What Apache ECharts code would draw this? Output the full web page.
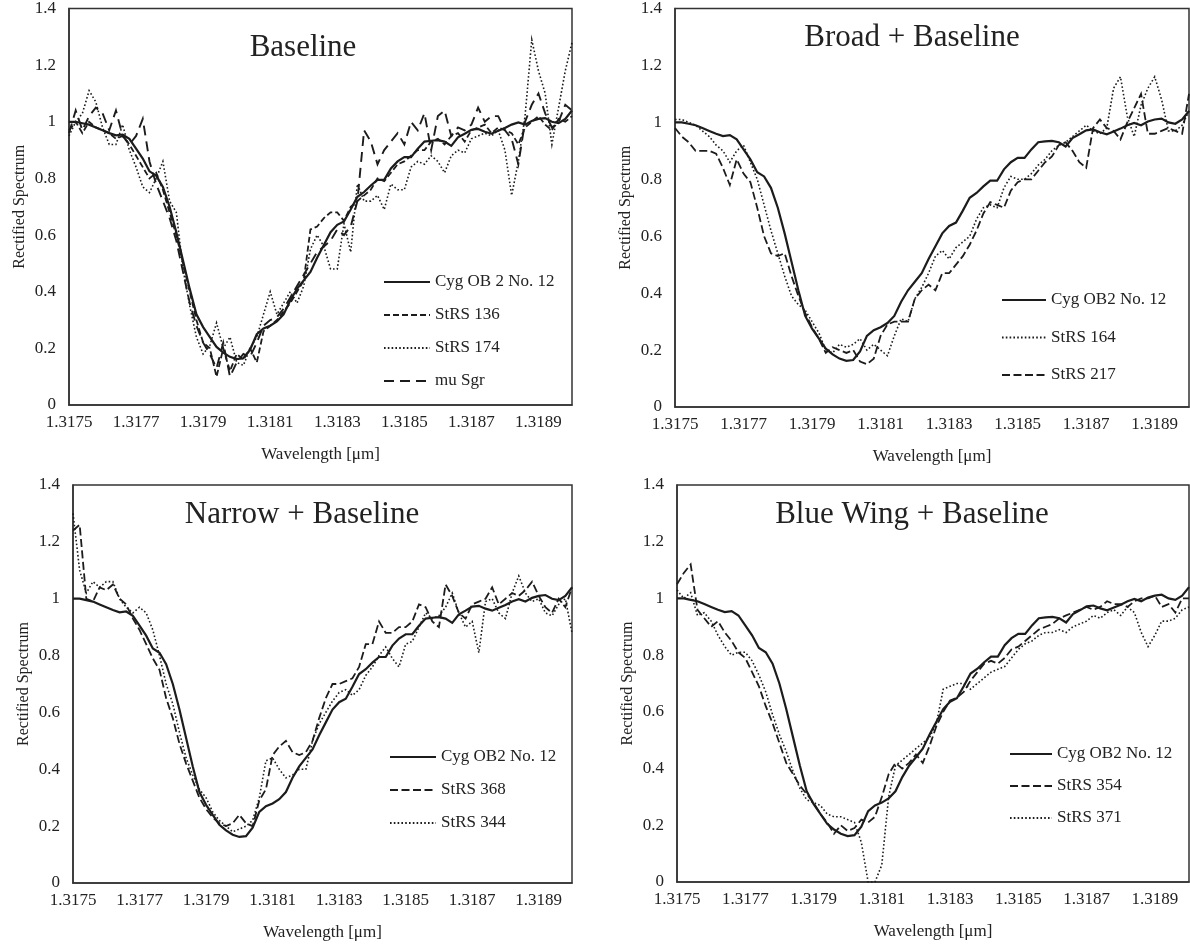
<!DOCTYPE html>
<html><head><meta charset="utf-8">
<script src="https://cdn.jsdelivr.net/npm/echarts@6/dist/echarts.min.js"></script>
<style>html,body{margin:0;padding:0;background:#fff}#c{width:1190px;height:948px}</style>
</head><body><div id="c"></div>
<script>
// ---------- DATA ----------
const wavelength = [1.3175,1.31752,1.31754,1.31756,1.31758,1.3176,1.31762,1.31764,1.31766,1.31768,
  1.3177,1.31772,1.31774,1.31776,1.31778,1.3178,1.31782,1.31784,1.31786,1.31788,
  1.3179,1.31792,1.31794,1.31796,1.31798,1.318,1.31802,1.31804,1.31806,1.31808,
  1.3181,1.31812,1.31814,1.31816,1.31818,1.3182,1.31822,1.31824,1.31826,1.31828,
  1.3183,1.31832,1.31834,1.31836,1.31838,1.3184,1.31842,1.31844,1.31846,1.31848,
  1.3185,1.31852,1.31854,1.31856,1.31858,1.3186,1.31862,1.31864,1.31866,1.31868,
  1.3187,1.31872,1.31874,1.31876,1.31878,1.3188,1.31882,1.31884,1.31886,1.31888,
  1.3189,1.31892,1.31894,1.31896,1.31898,1.319];
const xTickLabels = [1.3175,1.3177,1.3179,1.3181,1.3183,1.3185,1.3187,1.3189];
const yTickLabels = [0,0.2,0.4,0.6,0.8,1,1.2,1.4];
const panelTitles = ['Baseline','Broad + Baseline','Narrow + Baseline','Blue Wing + Baseline'];

// reference star (same in every panel)
const cygOB2No12 = [1.00,1.00,0.995,0.99,0.98,0.97,0.96,0.952,0.955,0.94,
  0.905,0.87,0.825,0.81,0.77,0.70,0.61,0.51,0.41,0.32,
  0.275,0.24,0.205,0.185,0.17,0.162,0.165,0.195,0.25,0.27,
  0.28,0.295,0.32,0.37,0.41,0.44,0.47,0.52,0.565,0.61,
  0.636,0.648,0.69,0.735,0.752,0.775,0.795,0.795,0.835,0.86,
  0.875,0.875,0.905,0.93,0.933,0.935,0.93,0.915,0.945,0.958,
  0.972,0.975,0.965,0.958,0.968,0.978,0.99,0.998,0.99,1.003,
  1.01,1.013,1.0,0.995,1.01,1.04];

// Panel 1: Baseline
const strs136 = [0.97,1.0,0.96,1.0,0.98,0.97,0.96,0.94,0.95,0.92,
  0.88,0.84,0.8,0.82,0.76,0.68,0.6,0.5,0.4,0.3,
  0.22,0.2,0.1,0.2,0.12,0.18,0.16,0.2,0.15,0.26,
  0.28,0.3,0.33,0.36,0.4,0.44,0.62,0.63,0.66,0.68,
  0.68,0.65,0.7,0.72,0.74,0.76,0.8,0.79,0.82,0.85,
  0.86,0.88,0.9,0.9,0.93,0.94,0.92,0.95,0.96,0.93,
  0.97,0.98,0.99,0.96,0.98,0.97,0.96,0.92,0.98,1.0,
  1.02,0.99,0.97,1.01,1.0,1.02];
const strs174 = [0.95,1.0,1.03,1.11,1.07,0.98,0.92,0.92,0.99,0.9,
  0.84,0.77,0.75,0.8,0.86,0.72,0.68,0.48,0.35,0.24,
  0.18,0.21,0.29,0.2,0.24,0.15,0.14,0.2,0.24,0.32,
  0.4,0.32,0.36,0.4,0.36,0.42,0.55,0.6,0.56,0.48,
  0.48,0.64,0.54,0.78,0.72,0.72,0.74,0.69,0.78,0.76,
  0.76,0.84,0.86,0.85,0.88,0.86,0.82,0.88,0.9,0.89,
  0.94,0.95,0.96,0.95,0.97,0.9,0.74,0.86,1.02,1.29,
  1.18,1.1,0.92,1.05,1.18,1.28];
const muSgr = [0.96,1.04,0.97,1.02,1.05,1.03,0.97,1.04,0.95,0.92,
  0.95,1.01,0.86,0.78,0.72,0.66,0.58,0.47,0.36,0.28,
  0.22,0.18,0.13,0.22,0.1,0.15,0.18,0.17,0.22,0.28,
  0.3,0.31,0.34,0.38,0.42,0.46,0.5,0.54,0.56,0.58,
  0.62,0.6,0.63,0.72,0.97,0.93,0.85,0.9,0.93,0.96,
  0.92,1.0,0.97,1.03,0.9,1.02,1.04,0.95,0.98,0.97,
  0.99,1.05,1.0,1.02,1.02,0.97,0.94,0.85,1.0,1.06,
  1.1,1.03,0.98,1.0,1.06,1.04];

// Panel 2: Broad + Baseline
const strs164 = [1.01,1.01,1.0,0.99,0.97,0.95,0.92,0.9,0.86,0.9,
  0.92,0.86,0.8,0.71,0.62,0.54,0.46,0.39,0.36,0.34,
  0.3,0.26,0.2,0.19,0.22,0.21,0.22,0.24,0.2,0.22,
  0.2,0.18,0.25,0.31,0.3,0.38,0.42,0.47,0.53,0.55,
  0.52,0.56,0.58,0.6,0.66,0.7,0.71,0.7,0.77,0.81,
  0.8,0.8,0.82,0.85,0.87,0.9,0.92,0.93,0.95,0.97,
  0.99,0.97,0.96,0.98,1.12,1.16,1.02,0.95,1.06,1.12,
  1.16,1.08,0.97,0.97,0.99,1.04];
const strs217 = [0.98,0.95,0.93,0.9,0.9,0.9,0.89,0.84,0.78,0.87,
  0.82,0.79,0.7,0.6,0.54,0.53,0.54,0.46,0.39,0.33,
  0.28,0.24,0.19,0.21,0.2,0.19,0.2,0.16,0.15,0.17,
  0.25,0.29,0.3,0.3,0.3,0.38,0.41,0.43,0.41,0.47,
  0.47,0.5,0.53,0.57,0.62,0.68,0.72,0.71,0.7,0.76,
  0.79,0.8,0.8,0.83,0.86,0.88,0.92,0.93,0.9,0.86,
  0.84,0.98,1.01,0.98,0.97,0.94,1.0,1.05,1.1,0.96,
  0.96,0.97,0.98,0.97,0.96,1.1];

// Panel 3: Narrow + Baseline
const strs368 = [1.24,1.26,1.0,0.99,1.04,1.03,1.05,1.0,0.98,0.93,
  0.89,0.84,0.79,0.75,0.65,0.58,0.49,0.42,0.36,0.3,
  0.26,0.23,0.21,0.2,0.21,0.24,0.21,0.2,0.29,0.33,
  0.45,0.48,0.5,0.46,0.45,0.46,0.5,0.58,0.65,0.7,
  0.7,0.71,0.72,0.76,0.84,0.84,0.92,0.88,0.88,0.9,
  0.9,0.92,0.98,0.97,0.92,0.9,1.05,1.01,0.95,0.93,
  0.98,0.99,1.0,1.04,0.98,1.0,1.02,1.01,1.03,1.06,
  1.01,0.97,0.95,1.0,0.97,1.04];
const strs344 = [1.3,1.1,1.02,1.06,1.04,1.06,1.06,1.0,0.97,0.95,
  0.97,0.95,0.89,0.8,0.7,0.63,0.53,0.44,0.38,0.33,
  0.3,0.25,0.22,0.2,0.18,0.19,0.2,0.22,0.3,0.43,
  0.44,0.4,0.37,0.38,0.4,0.4,0.5,0.56,0.6,0.64,
  0.67,0.68,0.66,0.68,0.73,0.76,0.8,0.83,0.79,0.76,
  0.84,0.85,0.9,0.95,0.93,0.94,0.97,1.02,0.95,0.9,
  0.92,0.81,0.99,1.0,0.95,0.93,1.02,1.08,1.02,0.99,
  1.0,0.95,0.94,0.98,1.0,0.88];

// Panel 4: Blue Wing + Baseline
const strs354 = [1.05,1.09,1.12,0.96,0.93,0.9,0.92,0.88,0.85,0.81,
  0.79,0.74,0.69,0.62,0.56,0.49,0.42,0.38,0.34,0.31,
  0.28,0.24,0.21,0.17,0.2,0.18,0.19,0.22,0.21,0.23,
  0.3,0.38,0.42,0.4,0.42,0.45,0.42,0.48,0.55,0.6,
  0.64,0.65,0.67,0.71,0.74,0.77,0.78,0.77,0.79,0.82,
  0.83,0.85,0.87,0.89,0.9,0.91,0.93,0.94,0.95,0.96,
  0.97,0.96,0.97,0.99,0.98,0.98,0.97,0.99,1.0,1.0,
  1.01,0.97,0.98,0.95,1.0,1.0];
const strs371 = [1.03,1.0,1.02,0.94,0.95,0.92,0.87,0.83,0.8,0.81,
  0.81,0.78,0.73,0.67,0.59,0.52,0.46,0.39,0.33,0.29,
  0.28,0.27,0.24,0.23,0.23,0.22,0.21,0.14,0.0,0.0,
  0.06,0.3,0.41,0.43,0.45,0.47,0.49,0.51,0.56,0.68,
  0.69,0.7,0.7,0.68,0.7,0.72,0.74,0.75,0.76,0.79,
  0.82,0.84,0.85,0.87,0.88,0.88,0.89,0.88,0.9,0.91,
  0.92,0.94,0.93,0.95,0.96,0.94,0.97,0.95,0.88,0.83,
  0.87,0.92,0.92,0.93,0.96,0.97];

// ---------- STYLE / LAYOUT ----------
const FONT = '"Liberation Serif","Times New Roman",serif';
const INK = '#1c1c1c';
const SOLID = {color: INK, width: 2.2, type: 'solid'};
const SHORTDASH = {color: INK, width: 1.8, type: [6, 3]};
const DASH = {color: INK, width: 1.8, type: [8, 3.5]};
const DOT = {color: INK, width: 1.6, type: [1.6, 2.2]};
const LONGDASH = {color: INK, width: 1.9, type: [10, 6]};

const panels = [
  {grid:{left:69, top:7, width:503, height:398}, title:{x:303, y:50},
   legend:{left:383, top:273, itemWidth:46, itemGap:15},
   series:[['Cyg OB 2 No. 12', cygOB2No12, SOLID], ['StRS 136', strs136, SHORTDASH],
           ['StRS 174', strs174, DOT], ['mu Sgr', muSgr, LONGDASH]]},
  {grid:{left:675, top:7, width:514, height:400}, title:{x:912, y:40},
   legend:{left:1001, top:291, itemWidth:44, itemGap:19.5},
   series:[['Cyg OB2 No. 12', cygOB2No12, SOLID], ['StRS 164', strs164, DOT],
           ['StRS 217', strs217, DASH]]},
  {grid:{left:73, top:485, width:499, height:398}, title:{x:302, y:517},
   legend:{left:389, top:748, itemWidth:46, itemGap:15},
   series:[['Cyg OB2 No. 12', cygOB2No12, SOLID], ['StRS 368', strs368, DASH],
           ['StRS 344', strs344, DOT]]},
  {grid:{left:677, top:485, width:512, height:397}, title:{x:912, y:517},
   legend:{left:1009, top:745, itemWidth:42, itemGap:14},
   series:[['Cyg OB2 No. 12', cygOB2No12, SOLID], ['StRS 354', strs354, DASH],
           ['StRS 371', strs371, DOT]]}
];

const option = {
  animation: false,
  backgroundColor: '#fff',
  title: panels.map((p, i) => ({
    text: panelTitles[i], left: p.title.x, top: p.title.y - 18, textAlign: 'center', padding: 0,
    textStyle: {fontFamily: FONT, fontSize: 31, fontWeight: 'normal', color: '#222'}
  })),
  grid: panels.map(p => Object.assign({show: true, borderColor: '#333', borderWidth: 1.5,
    backgroundColor: 'rgba(0,0,0,0)', containLabel: false}, p.grid)),
  xAxis: panels.map((p, i) => ({
    gridIndex: i, type: 'value', min: 1.3175, max: 1.319,
    axisLine: {show: true, onZero: false, lineStyle: {color: '#333', width: 1.5}},
    axisTick: {show: false}, splitLine: {show: false},
    axisLabel: {customValues: xTickLabels, formatter: v => v.toFixed(4), margin: 9,
      fontFamily: FONT, fontSize: 17, color: '#222'},
    name: 'Wavelength [μm]', nameLocation: 'middle', nameGap: 41,
    nameTextStyle: {fontFamily: FONT, fontSize: 17, color: '#222'}
  })),
  yAxis: panels.map((p, i) => ({
    gridIndex: i, type: 'value', min: 0, max: 1.4, interval: 0.2,
    axisLine: {show: true, lineStyle: {color: '#333', width: 1.5}},
    axisTick: {show: false}, splitLine: {show: false},
    axisLabel: {customValues: yTickLabels, formatter: v => (v === 0 || v === 1) ? String(v) : v.toFixed(1),
      margin: 13, fontFamily: FONT, fontSize: 17, color: '#222'},
    name: 'Rectified Spectrum', nameLocation: 'middle', nameGap: 41,
    nameTextStyle: {fontFamily: FONT, fontSize: 16, color: '#222'}
  })),
  legend: panels.map(p => ({
    data: p.series.map(s => s[0]), orient: 'vertical', left: p.legend.left, top: p.legend.top,
    itemWidth: p.legend.itemWidth, itemHeight: 14, itemGap: p.legend.itemGap, padding: 0,
    selectedMode: false,
    itemStyle: {opacity: 0, color: 'rgba(0,0,0,0)', borderWidth: 0},
    textStyle: {fontFamily: FONT, fontSize: 17, color: '#222', lineHeight: 18}
  })),
  series: []
};
panels.forEach((p, i) => {
  p.series.forEach(([name, vals, ls], j) => {
    option.series.push({
      type: 'line', name, xAxisIndex: i, yAxisIndex: i,
      data: wavelength.map((w, k) => [w, vals[k]]),
      symbol: 'none', showSymbol: false, clip: true,
      lineStyle: Object.assign({cap: 'butt', join: 'miter'}, ls),
      itemStyle: {color: INK}, z: 10 - j
    });
  });
});
const chart = echarts.init(document.getElementById('c'), null, {renderer: 'canvas'});
chart.setOption(option);
</script></body></html>
